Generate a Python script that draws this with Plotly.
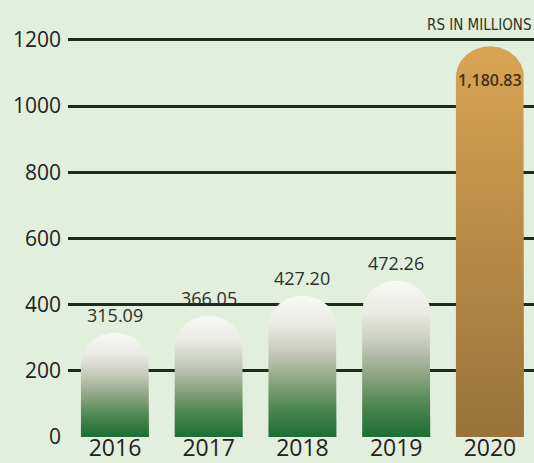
import numpy as np
import plotly.graph_objects as go

# Annual figures, Rs in millions
years = ["2016", "2017", "2018", "2019", "2020"]
values = [315.09, 366.05, 427.20, 472.26, 1180.83]
value_labels = ["315.09", "366.05", "427.20", "472.26", "1,180.83"]
y_ticks = [0, 200, 400, 600, 800, 1000, 1200]

W, H = 534, 463
M_L, M_B = 68, 25.5
Y_MAX = 1320.75
X_RANGE = [-0.501, 4.47]
BAR_HALF = 0.363          # half bar width in x units
CAP_PX = 31               # vertical radius of the rounded top, pixels

BG = "#e2efdc"
GREEN_SCALE = [[0.0, "#1d6d35"], [0.2, "#4c8650"], [0.4, "#8fa583"],
               [0.6, "#c6cabb"], [0.8, "#eaebe5"], [1.0, "#f8f8f4"]]
GOLD_SCALE = [[0.0, "#9a733a"], [0.5, "#b88a45"], [1.0, "#d8a554"]]

plot_h = H - M_B
units_per_px = Y_MAX / plot_h
cap = CAP_PX * units_per_px

fig = go.Figure()

for i, (yr, v) in enumerate(zip(years, values)):
    t = np.linspace(0, np.pi, 60)
    xs = np.concatenate([[i + BAR_HALF], i + BAR_HALF * np.cos(t), [i - BAR_HALF, i + BAR_HALF]])
    ys = np.concatenate([[0], (v - cap) + cap * np.sin(t), [0, 0]])
    scale = GOLD_SCALE if v > 1000 else GREEN_SCALE
    fig.add_trace(go.Scatter(
        x=xs, y=ys, mode="lines", fill="toself",
        line=dict(width=0), fillgradient=dict(type="vertical", colorscale=scale),
        hoverinfo="skip", showlegend=False, name=yr,
    ))
    if v > 1000:
        fig.add_annotation(x=i, y=v, text=value_labels[i], showarrow=False,
                           yanchor="top", yshift=-21,
                           font=dict(family="Open Sans", size=16, color="#4a2e12", weight=600))
    else:
        fig.add_annotation(x=i, y=v, text=value_labels[i], showarrow=False,
                           yanchor="bottom", yshift=4,
                           font=dict(family="Open Sans", size=18, color="#2e2e2e"))

fig.add_annotation(x=1, xref="paper", xanchor="right", y=Y_MAX - 25 * units_per_px,
                   yanchor="middle", text="RS IN MILLIONS", showarrow=False,
                   font=dict(family="DejaVu Sans Condensed, Liberation Sans Narrow, Open Sans",
                             size=15, color="#2a332a"))

fig.update_layout(
    width=W, height=H,
    margin=dict(l=M_L, r=0, t=0, b=M_B),
    paper_bgcolor=BG, plot_bgcolor=BG,
    xaxis=dict(range=X_RANGE, tickvals=list(range(len(years))), ticktext=years,
               showgrid=False, zeroline=False, showline=False, ticks="",
               ticklabelstandoff=-5, automargin=False,
               tickfont=dict(family="Open Sans", size=23, color="#222222", weight=500)),
    yaxis=dict(range=[0, Y_MAX], tickvals=y_ticks, showgrid=True,
               gridcolor="#1e2a1e", gridwidth=3,
               zeroline=True, zerolinecolor=BG, zerolinewidth=3,
               showline=False, ticks="", ticklabelstandoff=6, automargin=False,
               tickfont=dict(family="Open Sans", size=21, color="#222222")),
)

fig.write_html("out.html")
